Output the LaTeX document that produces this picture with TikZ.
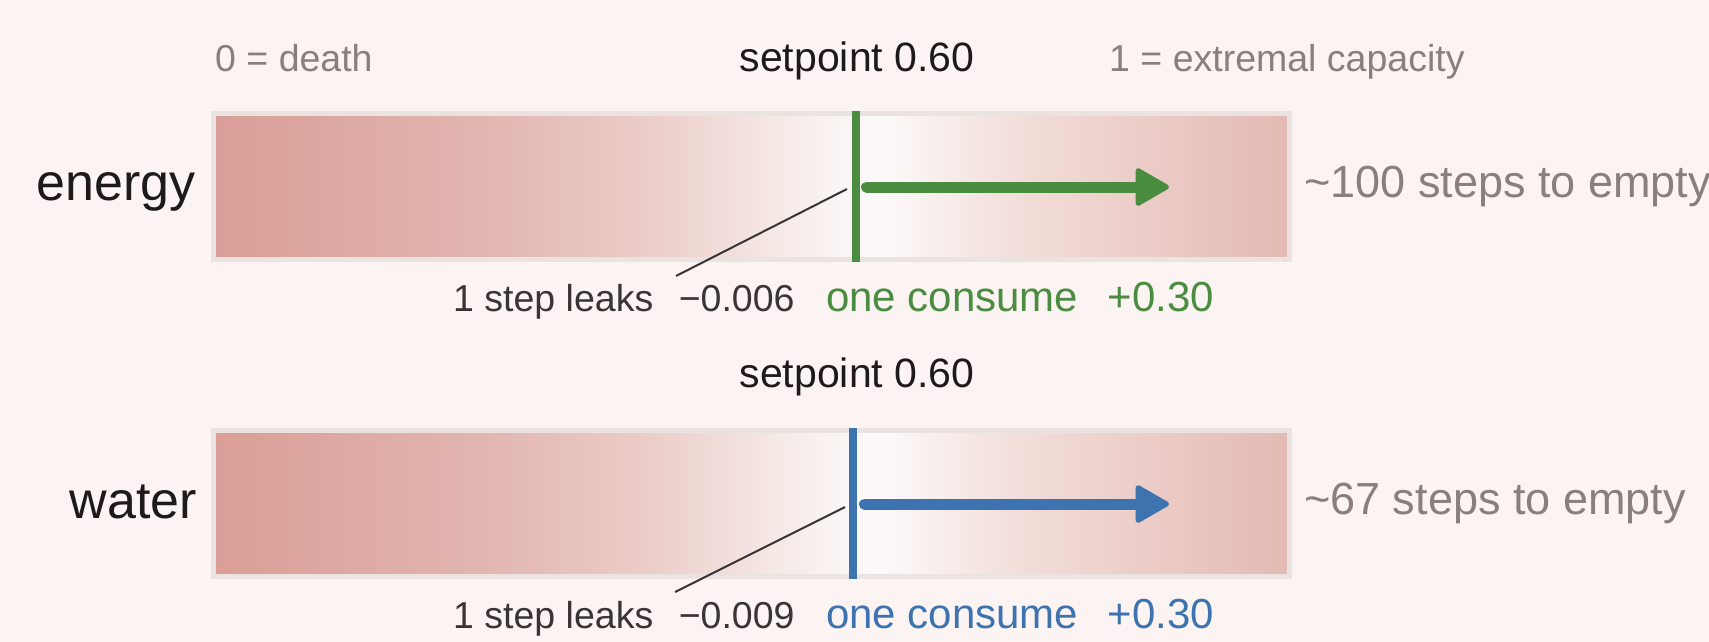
\documentclass[tikz,border=0pt]{standalone}
\usepackage{fontspec}
\setmainfont{Liberation Sans}
\usetikzlibrary{positioning, calc, arrows.meta}
\definecolor{bgpink}{HTML}{FCF4F2}
\definecolor{rimgray}{HTML}{EBE3E0}
\definecolor{inkdark}{HTML}{1E1A1A}
\definecolor{inkgray}{HTML}{8A7F7D}
\definecolor{leakgray}{HTML}{3A3535}
\definecolor{egreen}{HTML}{4A8C40}
\definecolor{wblue}{HTML}{3D74B0}
\definecolor{red0}{HTML}{D99E97}
\definecolor{red1}{HTML}{E2B5B0}
\definecolor{red2}{HTML}{EBCCC8}
\definecolor{red3}{HTML}{F3E3E0}
\definecolor{red4}{HTML}{F9F3F1}
\definecolor{red5}{HTML}{FCFAF9}
\definecolor{red6}{HTML}{F2DDD9}
\definecolor{red7}{HTML}{E4B9B4}
\pgfdeclarehorizontalshading{meter}{100bp}{color(0bp)=(red0); color(25bp)=(red0); color(37.5bp)=(red1); color(45bp)=(red2); color(50bp)=(red3); color(53.5bp)=(red4); color(56bp)=(red5); color(62.5bp)=(red6); color(75bp)=(red7); color(100bp)=(red7)}
\tikzset{bar/.style={shading=meter, draw=rimgray, line width=5pt, minimum width=1076pt, minimum height=146pt, inner sep=0pt},
	name label/.style={text=inkdark, inner sep=0pt, font=\fontsize{52}{60}\selectfont},
	set label/.style={text=inkdark, inner sep=0pt, font=\fontsize{41}{48}\selectfont},
	scale label/.style={text=inkgray, inner sep=0pt, font=\fontsize{37.5}{45}\selectfont},
	steps label/.style={text=inkgray, inner sep=0pt, font=\fontsize{45}{52}\selectfont},
	leak label/.style={text=leakgray, inner sep=0pt, font=\fontsize{37.5}{45}\selectfont},
	gain label/.style={inner sep=0pt, font=\fontsize{42}{50}\selectfont},
	setline/.style={line width=7.5pt},
	gain arrow/.style={line width=11pt, line cap=round, -{Triangle[length=36pt, width=40pt, round, line width=5pt]}},
	leader/.style={line width=2pt, draw=leakgray}}
\begin{document}
\begin{tikzpicture}[x=1pt, y=-1pt]
	\fill[bgpink] (0,0) rectangle (1709,642);
	\useasboundingbox (0,0) rectangle (1709,642);
	% energy
	\node[bar] (ebar) at (751.5,186.5) {};
	\node[scale label, anchor=base west] (zero) at (215,71) {0 = death};
	\node[set label, anchor=base] (eset) at (857,71) {setpoint 0.60};
	\node[scale label, anchor=base west] (full) at (1109,71) {1 = extremal capacity};
	\node[name label, anchor=base east] (ename) at (196,200) {energy};
	\node[steps label, anchor=base west] (esteps) at (1304,197) {\textasciitilde100 steps to empty};
	\node[leak label, anchor=base west] (eleak) at (453,311) {1 step leaks\hspace{0.68em}−0.006};
	\node[gain label, text=egreen, anchor=base west] (egain) at (826,311) {one consume\hspace{0.7em}+0.30};
	\coordinate (etop) at (856,111);
	\coordinate (ebot) at (856,262);
	\coordinate (efrom) at (866.5,187);
	\coordinate (eto) at (1169,187);
	\coordinate (epin) at (847,189);
	\coordinate (eleg) at (676,276);
	\draw[setline, egreen] (etop) -- (ebot);
	\draw[gain arrow, egreen] (efrom) -- (eto);
	\draw[leader] (eleg) -- (epin);
	% water
	\node[bar] (wbar) at (751.5,503.5) {};
	\node[set label, anchor=base] (wset) at (857,387) {setpoint 0.60};
	\node[name label, anchor=base east] (wname) at (197,518) {water};
	\node[steps label, anchor=base west] (wsteps) at (1304,514) {\textasciitilde67 steps to empty};
	\node[leak label, anchor=base west] (wleak) at (453,628) {1 step leaks\hspace{0.68em}−0.009};
	\node[gain label, text=wblue, anchor=base west] (wgain) at (826,628) {one consume\hspace{0.7em}+0.30};
	\coordinate (wtop) at (853,428);
	\coordinate (wbot) at (853,579);
	\coordinate (wfrom) at (864.5,504);
	\coordinate (wto) at (1169,504);
	\coordinate (wpin) at (845,507);
	\coordinate (wleg) at (675,592);
	\draw[setline, wblue] (wtop) -- (wbot);
	\draw[gain arrow, wblue] (wfrom) -- (wto);
	\draw[leader] (wleg) -- (wpin);
\end{tikzpicture}
\end{document}
